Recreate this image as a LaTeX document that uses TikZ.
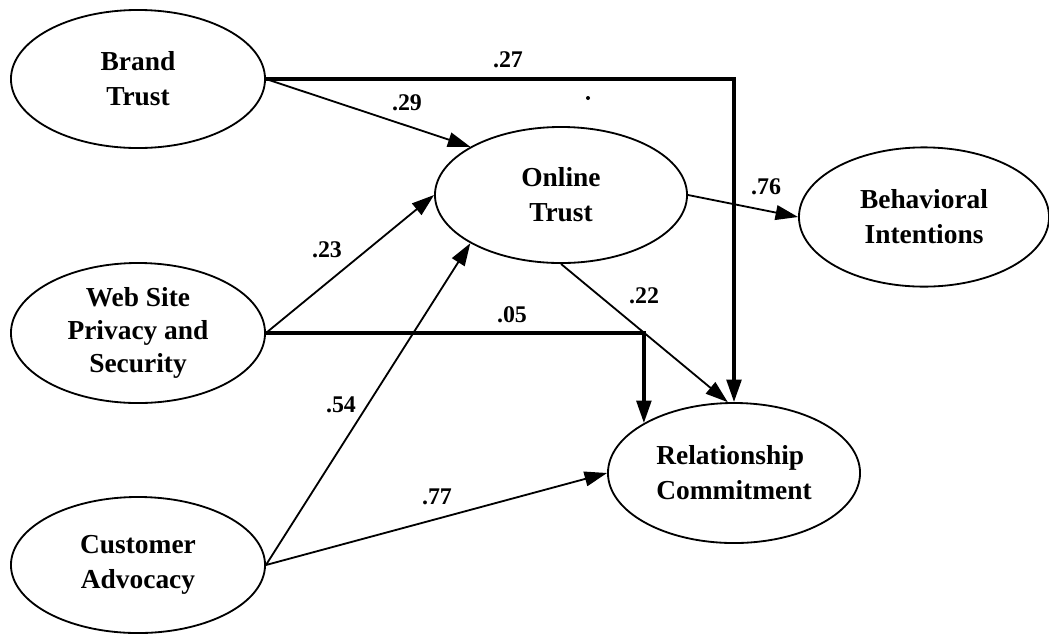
\documentclass[tikz,border=0pt]{standalone}
\usepackage{fontspec}
\setmainfont{Liberation Serif}
\usetikzlibrary{arrows.meta,shapes.geometric}
\begin{document}
\begin{tikzpicture}[x=0.025cm,y=-0.025cm,
  latent/.style={draw, ellipse, line width=1.3pt, inner sep=0pt,
    font=\fontsize{19.5}{24.8}\selectfont\bfseries, align=center},
  thinarrow/.style={line width=1.3pt, -{Triangle[length=16pt,width=10.5pt]}},
  thickarrow/.style={line width=2.3pt, -{Triangle[length=16pt,width=10.5pt]}},
  coef/.style={font=\fontsize{17}{20}\selectfont\bfseries, inner sep=0pt}
]
\useasboundingbox (0,0) rectangle (1049,634);

\node[latent, minimum width=6.35cm, minimum height=3.45cm] (B) at (138,79) {Brand\\Trust};
\node[latent, minimum width=6.35cm, minimum height=3.5cm,
  font=\fontsize{19.5}{23.4}\selectfont\bfseries] (W) at (138,333) {Web Site\\Privacy and\\Security};
\node[latent, minimum width=6.35cm, minimum height=3.4cm] (C) at (138,565) {Customer\\Advocacy};
\node[latent, minimum width=6.3cm, minimum height=3.4cm] (O) at (561,195) {Online\\Trust};
\node[latent, minimum width=6.25cm, minimum height=3.48cm] (Bh) at (924,217) {Behavioral\\Intentions};
\node[latent, minimum width=6.3cm, minimum height=3.5cm, align=left] (R) at (734,473) {Relationship\\Commitment};

\draw[thickarrow] (B.east) -- (B.east -| R.north) -- (R.north);
\draw[thinarrow] (B.east) -- (O.152);
\draw[thinarrow] (W.east) -- (O.west);
\draw[thickarrow] (W.east) -| (R.151);
\draw[thinarrow] (C.east) -- (O.208);
\draw[thinarrow] (C.east) -- (R.west);
\draw[thinarrow] (O.east) -- (Bh.west);
\draw[thinarrow] (O.south) -- (R.95);

\node[coef] (l27) at (508,60) {.27};
\node[coef] (l29) at (407,103) {.29};
\node[coef] (l23) at (327,250) {.23};
\node[coef] (l05) at (512,315) {.05};
\node[coef] (l54) at (341,405) {.54};
\node[coef] (l77) at (437,497) {.77};
\node[coef] (l76) at (766,187) {.76};
\node[coef] (l22) at (644,296) {.22};
\fill (588,98) circle (2);
\end{tikzpicture}
\end{document}
